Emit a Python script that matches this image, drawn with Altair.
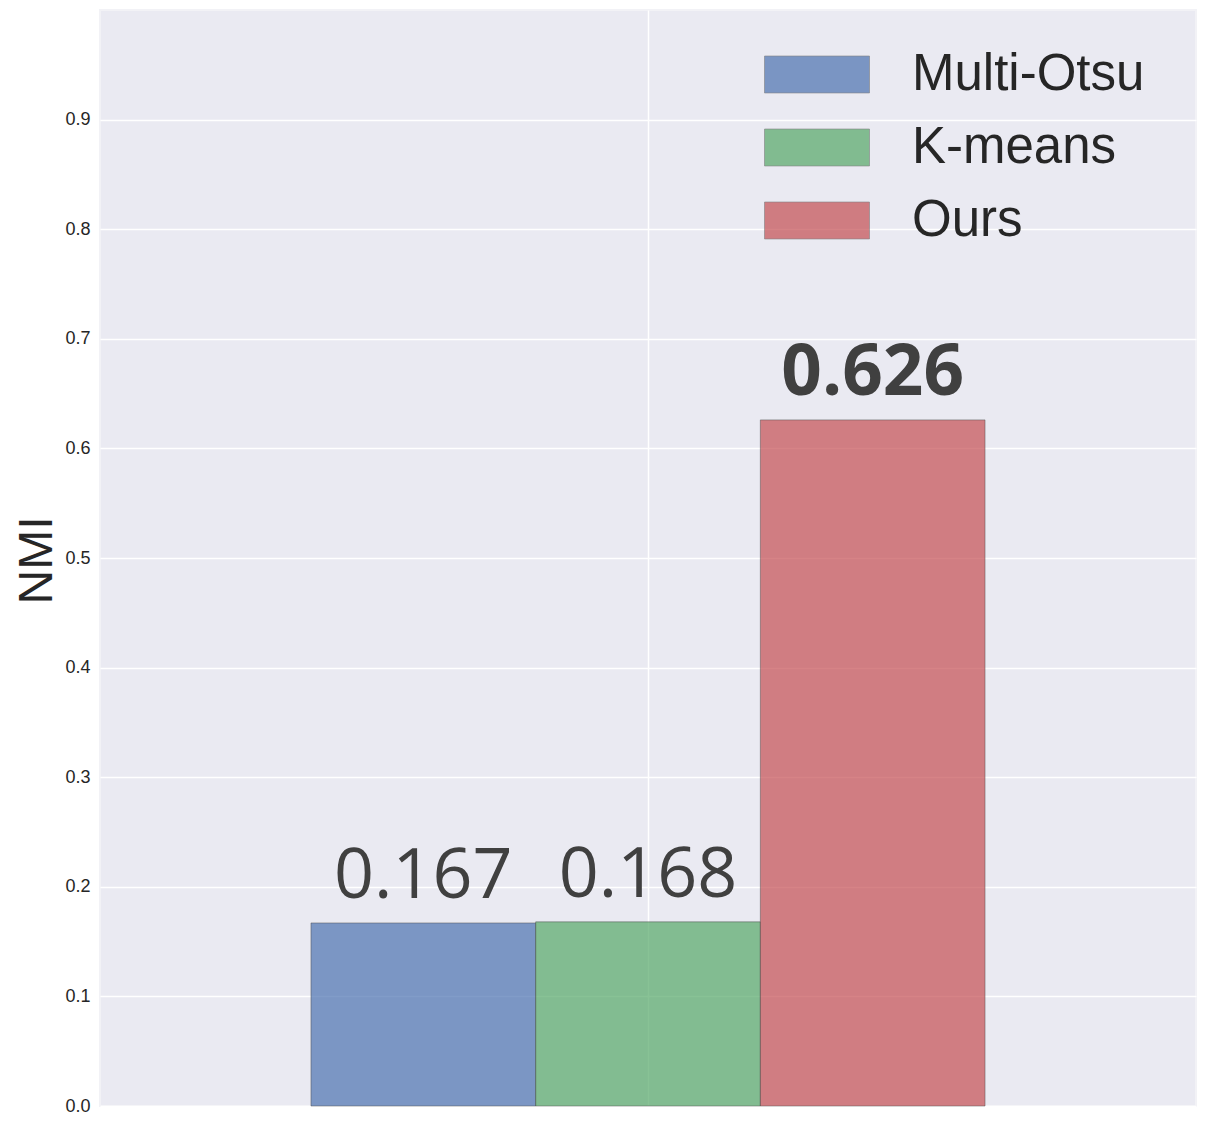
import altair as alt
import pandas as pd

methods = ["Multi-Otsu", "K-means", "Ours"]
values = [0.167, 0.168, 0.626]
labels = ["0.167", "0.168", "0.626"]
colors = ["#4C72B0", "#55A868", "#C44E52"]
y_ticks = [0.0, 0.1, 0.2, 0.3, 0.4, 0.5, 0.6, 0.7, 0.8, 0.9]

bar_w = 0.205
rows = []
for i, (m, v, l) in enumerate(zip(methods, values, labels)):
    x0 = (i - 1.5) * bar_w
    rows.append({"method": m, "value": v, "label": l, "x0": x0, "x1": x0 + bar_w,
                 "xc": x0 + bar_w / 2, "bold": m == "Ours"})
df = pd.DataFrame(rows)

xscale = alt.Scale(domain=[-0.5, 0.5], nice=False, zero=False)
yscale = alt.Scale(domain=[0, 1.0], nice=False)

color = alt.Color("method:N", scale=alt.Scale(domain=methods, range=colors),
                  sort=methods,
                  legend=alt.Legend(title=None, orient="none", legendX=664, legendY=28,
                                    symbolType="M-1,-0.352H1V0.352H-1Z",
                                    symbolSize=11025, symbolOpacity=0.7,
                                    symbolStrokeColor="#555555", symbolStrokeWidth=0.6,
                                    labelFont="Liberation Sans", labelFontSize=51,
                                    labelColor="#262626", labelOffset=42,
                                    clipHeight=73, rowPadding=0, padding=0, labelLimit=400))

bars = alt.Chart(df).mark_rect(fillOpacity=0.7, stroke="#444444", strokeOpacity=0.45,
                               strokeWidth=1).encode(
    x=alt.X("x0:Q", scale=xscale,
            axis=alt.Axis(values=[0], labels=False, ticks=False, domain=False, title=None,
                          grid=True, gridColor="white", gridWidth=1.5)),
    x2="x1:Q",
    y=alt.Y("value:Q", scale=yscale,
            axis=alt.Axis(values=y_ticks, format=".1f", title="NMI", ticks=False, domain=False,
                          labelFont="Liberation Sans", labelFontSize=18, labelColor="#262626",
                          labelPadding=10, grid=True, gridColor="white", gridWidth=1.5,
                          titleFont="Liberation Sans", titleFontSize=48, titleFontWeight="normal",
                          titleColor="#262626", titleX=-49, titleY=550, titleAngle=-90,
                          titleBaseline="alphabetic", titleAlign="center")),
    y2=alt.datum(0),
    color=color,
)

text_normal = alt.Chart(df).transform_filter("!datum.bold").mark_text(
    font="Open Sans", fontSize=70, color="#404040", baseline="alphabetic", dy=-25
).encode(x=alt.X("xc:Q", scale=xscale), y=alt.Y("value:Q", scale=yscale), text="label:N")

text_bold = alt.Chart(df).transform_filter("datum.bold").mark_text(
    font="Open Sans", fontSize=71, fontWeight="bold", color="#404040", baseline="alphabetic", dy=-25
).encode(x=alt.X("xc:Q", scale=xscale), y=alt.Y("value:Q", scale=yscale), text="label:N")

chart = alt.layer(bars, text_normal, text_bold).properties(
    width=1096, height=1096,
    padding={"left": 92, "top": 2, "right": 2, "bottom": 10},
    autosize=alt.AutoSizeParams(type="none"),
).configure_view(fill="#EAEAF2", stroke="#F2F2F6", strokeWidth=2)

chart.save("out.html", embed_options={"renderer": "svg", "actions": False})
